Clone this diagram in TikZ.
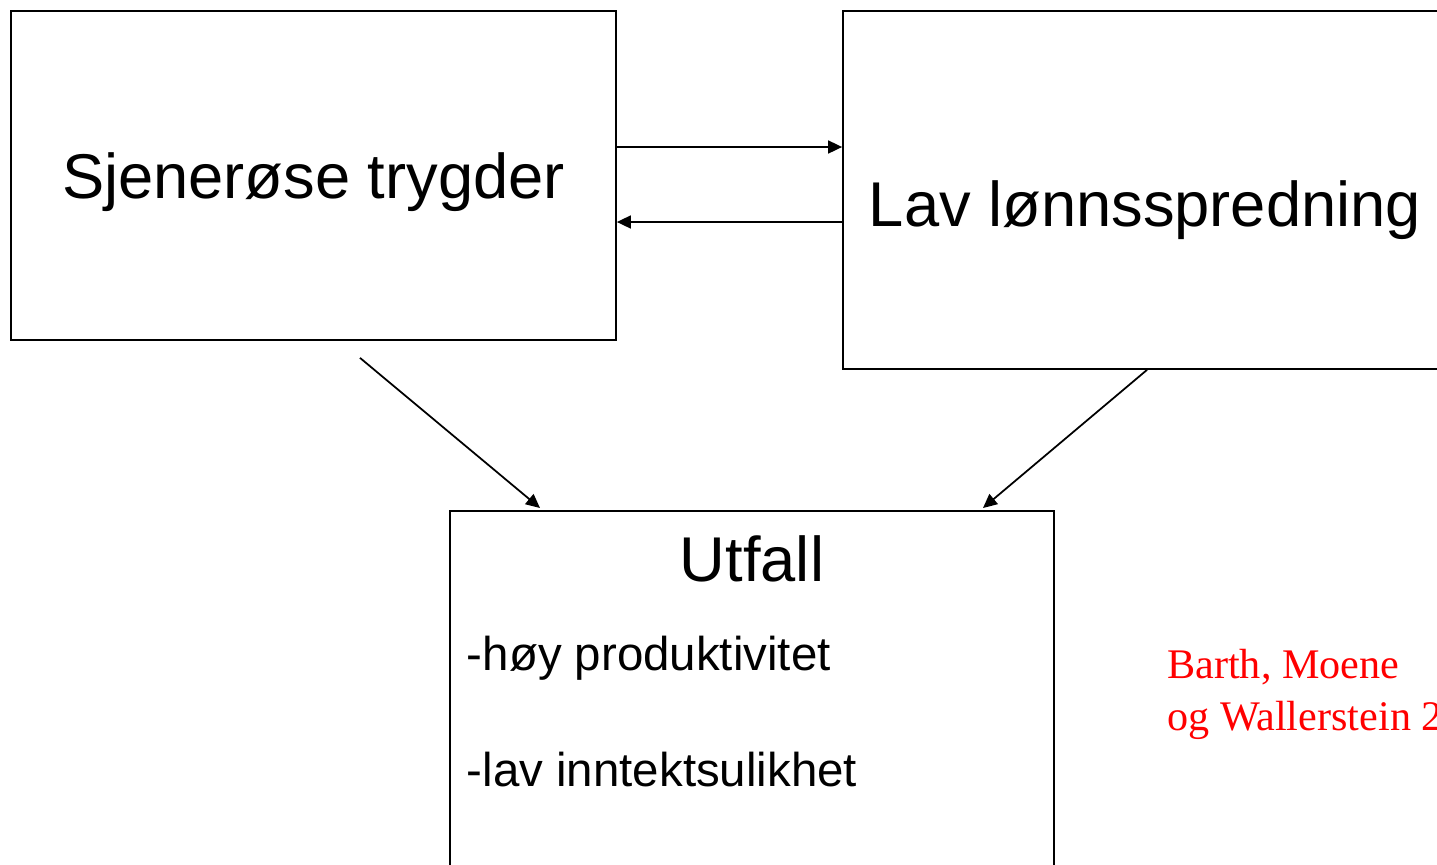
\documentclass[tikz,border=0pt]{standalone}
\usepackage{fontspec}
\setmainfont{Liberation Sans}
\newfontfamily\refserif{Liberation Serif}
\usepackage{xcolor}
\usetikzlibrary{arrows.meta}

\tikzset{
    box/.style={draw, rectangle, line width=1pt},
    big/.style={font=\fontsize{36}{43}\selectfont},
    body/.style={font=\fontsize{27}{32}\selectfont, inner sep=0pt, anchor=base west},
    arr/.style={-{Triangle[length=0.28cm, width=0.26cm]}, line width=1pt}
}

\begin{document}
\begin{tikzpicture}
        \useasboundingbox (0,0) rectangle (28.74,-17.28);
        \clip (0,0) rectangle (28.74,-17.28);

        \node[box, big, text depth=0pt, minimum width=12.1cm, minimum height=6.58cm] (trygd) at (6.27,-3.51) {Sjenerøse trygder};

        \node[box, minimum width=12.16cm, minimum height=7.16cm] (lonn) at (22.94,-3.8) {};
        \node[big, anchor=base] (lonntxt) at ([xshift=-0.04cm, yshift=-0.72cm]lonn.center) {Lav lønnsspredning};

        \node[box, anchor=north, minimum width=12.08cm, minimum height=8.5cm] (utfall) at (15.04,-10.2) {};
        \node[big, anchor=base] (utfalltxt) at ([yshift=-1.434cm]utfall.north) {Utfall};
        \node[body] (hoy) at (9.33,-13.41) {-høy produktivitet};
        \node[body] (ulik) at (9.33,-15.73) {-lav inntektsulikhet};

        % source, cut at the right edge
        \node[anchor=base west, inner sep=0pt, align=left, text=red, font=\refserif\fontsize{24}{29.5}\selectfont] (kilde) at (23.34,-14.6) {Barth, Moene\\og Wallerstein 2};

        \draw[arr] ([yshift=0.57cm]trygd.east) -- ([yshift=0.57cm]trygd.east -| lonn.west);
        \draw[arr] ([yshift=-0.93cm]trygd.east -| lonn.west) -- ([yshift=-0.93cm]trygd.east);

        \draw[arr] ([xshift=0.93cm, yshift=-0.34cm]trygd.south) -- ([xshift=-4.24cm, yshift=0.04cm]utfall.north);
        \draw[arr] (lonn.south) -- ([xshift=4.62cm, yshift=0.04cm]utfall.north);
    \end{tikzpicture}
\end{document}
